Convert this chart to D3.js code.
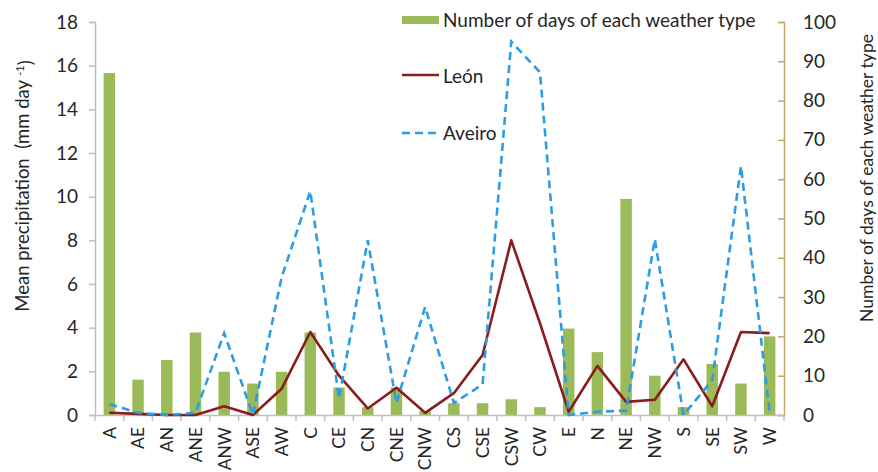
<!DOCTYPE html>
<html>
<head>
<meta charset="utf-8">
<script src="https://cdn.jsdelivr.net/npm/d3@7"></script>
<style>
  html, body { margin: 0; padding: 0; background: #fff; }
  svg { display: block; font-family: Lato, "Open Sans", sans-serif; }
</style>
</head>
<body>
<svg id="chart" width="878" height="472"></svg>
<script>
const categories = ["A","AE","AN","ANE","ANW","ASE","AW","C","CE","CN","CNE","CNW","CS","CSE","CSW","CW","E","N","NE","NW","S","SE","SW","W"];
const daysOfType = [87,9,14,21,11,8,11,21,7,2,7,1,3,3,4,2,22,16,55,10,2,13,8,20];
const leonPrecip = [0.1,0.05,0.0,0.0,0.4,0.0,1.2,3.8,1.8,0.3,1.25,0.1,1.0,2.75,8.0,4.2,0.15,2.25,0.6,0.7,2.55,0.4,3.8,3.75];
const aveiroPrecip = [0.5,0.1,0.0,0.1,3.75,0.0,6.3,10.25,0.75,8.0,0.55,4.95,0.55,1.4,17.1,15.7,0.0,0.15,0.2,8.05,0.0,1.6,11.4,0.1];
const leftTicks = [0,2,4,6,8,10,12,14,16,18];
const rightTicks = [0,10,20,30,40,50,60,70,80,90,100];
const legendLabels = ["Number of days of each weather type","León","Aveiro"];
const leftTitle = "Mean precipitation  (mm day ";
const leftTitleSup = "-1";
const rightTitle = "Number of days of each weather type";

const svg = d3.select("#chart");
const L = 95, R = 784, T = 22, B = 415;
const x = d3.scaleBand().domain(categories).range([L, R]).paddingInner(0).paddingOuter(0);
const yL = d3.scaleLinear().domain([0, 18]).range([B, T]);
const yR = d3.scaleLinear().domain([0, 100]).range([B, T]);

const axisGray = "#bfbfbf";
const textCol = "#262626";
const fontSize = 19;

// Bars
const barW = x.bandwidth() * 0.4;
svg.append("g").selectAll("rect").data(categories).join("rect")
  .attr("x", (d) => x(d) + x.bandwidth() / 2 - barW / 2)
  .attr("y", (d, i) => yR(daysOfType[i]))
  .attr("width", barW)
  .attr("height", (d, i) => B - yR(daysOfType[i]))
  .attr("fill", "#9bbb59");

// Left axis
const gL = svg.append("g").attr("transform", `translate(${L},0)`)
  .call(d3.axisLeft(yL).tickValues(leftTicks).tickSize(6).tickPadding(11));
gL.select(".domain").attr("stroke", axisGray).attr("stroke-width", 1.5);
gL.selectAll(".tick line").attr("stroke", axisGray).attr("stroke-width", 1.5);
gL.selectAll(".tick text").attr("fill", textCol).style("font-size", fontSize + "px").style("font-family", "Lato, sans-serif");

// Right axis
const rightCol = "#c9a46c";
const gR = svg.append("g").attr("transform", `translate(${R},0)`)
  .call(d3.axisRight(yR).tickValues(rightTicks).tickSizeInner(-6).tickSizeOuter(-6).tickPadding(19));
gR.select(".domain").attr("stroke", rightCol).attr("stroke-width", 1.5);
gR.selectAll(".tick line").attr("stroke", rightCol).attr("stroke-width", 1.5);
gR.selectAll(".tick text").attr("fill", textCol).style("font-size", fontSize + "px").style("font-family", "Lato, sans-serif");

// Bottom axis
const gB = svg.append("g").attr("transform", `translate(0,${B})`)
  .call(d3.axisBottom(x).tickSize(0).tickPadding(0));
gB.select(".domain").attr("stroke", axisGray).attr("stroke-width", 1.5);
gB.selectAll(".tick text")
  .attr("fill", textCol)
  .style("font-size", "17.5px").style("font-family", "Lato, sans-serif")
  .attr("text-anchor", "end")
  .attr("transform", "rotate(-90)")
  .attr("x", -12).attr("y", 0).attr("dy", "0.36em");
// boundary ticks
const bounds = categories.map((c) => x(c)).concat([x(categories[categories.length - 1]) + x.bandwidth()]);
gB.append("g").selectAll("line").data(bounds).join("line")
  .attr("x1", (d) => d).attr("x2", (d) => d).attr("y1", 0).attr("y2", 6)
  .attr("stroke", axisGray).attr("stroke-width", 1.5);

// Lines
const cx = (i) => x(categories[i]) + x.bandwidth() / 2;
const lineL = d3.line().x((d, i) => cx(i)).y((d) => yL(d));
svg.append("path").datum(leonPrecip).attr("d", lineL)
  .attr("fill", "none").attr("stroke", "#8b1c1c").attr("stroke-width", 2.6).attr("stroke-linejoin", "round");
svg.append("path").datum(aveiroPrecip).attr("d", lineL)
  .attr("fill", "none").attr("stroke", "#2b9de3").attr("stroke-width", 2.6).attr("stroke-dasharray", "8,5");

// Legend
const lg = svg.append("g");
lg.append("rect").attr("x", 402).attr("y", 16).attr("width", 37).attr("height", 8).attr("fill", "#9bbb59");
lg.append("line").attr("x1", 402).attr("x2", 439).attr("y1", 75).attr("y2", 75).attr("stroke", "#8b1c1c").attr("stroke-width", 2.6);
lg.append("line").attr("x1", 402).attr("x2", 439).attr("y1", 133).attr("y2", 133).attr("stroke", "#2b9de3").attr("stroke-width", 2.6).attr("stroke-dasharray", "8,5");
const lgY = [27, 83, 140];
legendLabels.forEach((t, i) => {
  lg.append("text").attr("x", 443).attr("y", lgY[i]).attr("fill", textCol)
    .style("font-size", fontSize + "px").text(t);
});

// Axis titles
const lt = svg.append("text")
  .attr("transform", "translate(29,186) rotate(-90)")
  .attr("text-anchor", "middle").attr("fill", textCol)
  .style("font-size", "18.5px").style("white-space", "pre");
lt.append("tspan").text(leftTitle);
lt.append("tspan").attr("dy", "-0.45em").style("font-size", "11px").text(leftTitleSup);
lt.append("tspan").attr("dy", "0.45em").text(")");

svg.append("text")
  .attr("transform", "translate(873,178) rotate(-90)")
  .attr("text-anchor", "middle").attr("fill", textCol)
  .style("font-size", "17.5px").text(rightTitle);
</script>
</body>
</html>
